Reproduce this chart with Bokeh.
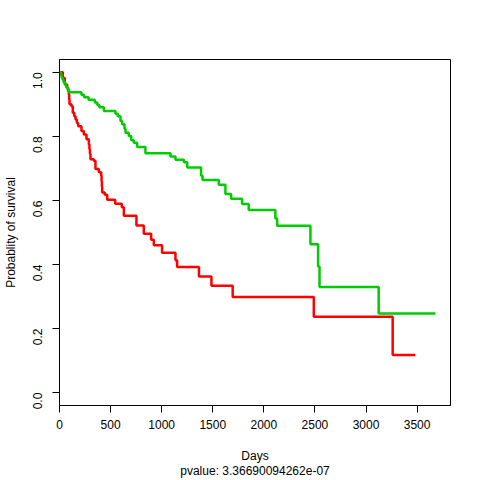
import math
from bokeh.plotting import figure
from bokeh.models import Range1d, FixedTicker, PrintfTickFormatter
from bokeh.embed import file_html
from bokeh.resources import INLINE

# Kaplan-Meier step curves (time in days, survival probability)
red_days = [0, 32, 52, 75, 85, 91, 95, 98, 117, 130,
            145, 157, 170, 183, 215, 238, 264, 287, 293, 298,
            303, 336, 352, 385, 408, 412, 415, 418, 443, 467,
            545, 610, 630, 753, 825, 897, 923, 1004, 1135, 1151,
            1365, 1487, 1695, 2489, 3261, 3483]
red_surv = [1.0, 0.982, 0.962, 0.952, 0.941, 0.931, 0.915, 0.900, 0.894, 0.874,
            0.863, 0.853, 0.842, 0.832, 0.817, 0.806, 0.791, 0.775, 0.760, 0.745,
            0.729, 0.724, 0.698, 0.688, 0.677, 0.660, 0.643, 0.625, 0.618, 0.602,
            0.590, 0.579, 0.552, 0.522, 0.496, 0.477, 0.460, 0.437, 0.413, 0.392,
            0.363, 0.334, 0.299, 0.237, 0.118, 0.118]

green_days = [0, 10, 20, 30, 40, 55, 65, 80, 95, 215,
              240, 285, 345, 370, 390, 435, 548, 570, 597, 613,
              636, 646, 678, 702, 727, 760, 841, 1086, 1135, 1218,
              1250, 1386, 1400, 1559, 1624, 1680, 1787, 1852, 2113, 2130,
              2456, 2531, 2545, 3124, 3680]
green_surv = [1.0, 0.992, 0.984, 0.977, 0.969, 0.961, 0.953, 0.945, 0.938, 0.930,
              0.922, 0.914, 0.906, 0.898, 0.891, 0.879, 0.871, 0.863, 0.848, 0.838,
              0.824, 0.811, 0.801, 0.788, 0.780, 0.767, 0.747, 0.737, 0.727, 0.719,
              0.703, 0.677, 0.664, 0.649, 0.620, 0.605, 0.589, 0.570, 0.544, 0.521,
              0.463, 0.394, 0.330, 0.247, 0.247]

x_ticks = [0, 500, 1000, 1500, 2000, 2500, 3000, 3500]
y_ticks = [0.0, 0.2, 0.4, 0.6, 0.8, 1.0]
x_label = "Days"
y_label = "Probablity of survival"
pvalue_text = "pvalue: 3.36690094262e-07"

FONT = "Liberation Sans"

p = figure(width=480, height=480, output_backend="svg", toolbar_location=None,
           x_range=Range1d(0, 3827), y_range=Range1d(-0.04, 1.04),
           min_border_left=59, min_border_right=30, min_border_top=59,
           min_border_bottom=73)
p.background_fill_color = "white"
p.border_fill_color = "white"
p.outline_line_color = "black"
p.outline_line_width = 1
p.grid.visible = False

p.step(red_days, red_surv, mode="after", line_color="#FF0000", line_width=2.5)
p.step(green_days, green_surv, mode="after", line_color="#00CD00", line_width=2.5)

for ax in (p.xaxis[0], p.yaxis[0]):
    ax.axis_line_color = "black"
    ax.major_tick_line_color = "black"
    ax.major_tick_out = 7
    ax.major_tick_in = 0
    ax.minor_tick_line_color = None
    ax.major_label_text_font = FONT
    ax.major_label_text_font_size = "12px"
    ax.major_label_text_color = "black"
    ax.axis_label_text_font = FONT
    ax.axis_label_text_font_size = "12px"
    ax.axis_label_text_font_style = "normal"
    ax.axis_label_text_color = "black"

p.xaxis.ticker = FixedTicker(ticks=x_ticks)
p.yaxis.ticker = FixedTicker(ticks=y_ticks)
p.yaxis.formatter = PrintfTickFormatter(format="%.1f")
p.yaxis.major_label_orientation = math.pi / 2
p.xaxis.major_label_standoff = 7
p.yaxis.major_label_standoff = 15
# x title and the p-value line share one two-line axis label
p.xaxis.axis_label = x_label + "\n" + pvalue_text
p.yaxis.axis_label = y_label
p.xaxis.axis_label_standoff = 17
p.xaxis.axis_label_text_line_height = 1.1
p.yaxis.axis_label_standoff = 8

open("out.html", "w").write(file_html(p, INLINE))
